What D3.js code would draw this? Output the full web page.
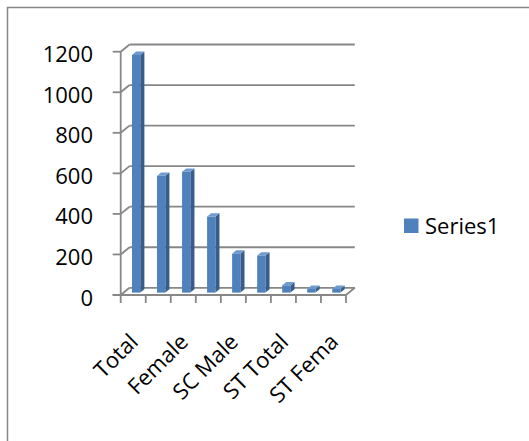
<!DOCTYPE html>
<html>
<head>
<meta charset="utf-8">
<script src="https://cdn.jsdelivr.net/npm/d3@7"></script>
<style>
  html, body { margin: 0; padding: 0; background: #fff; }
  svg { display: block; }
  text { font-family: "Open Sans", Lato, sans-serif; fill: #000; }
</style>
</head>
<body>
<svg id="chart" width="529" height="441"></svg>
<script>
const categories = ["Total", "Male", "Female", "SC Total", "SC Male", "SC Female", "ST Total", "ST Male", "ST Female"];
const values = [1172, 576, 596, 375, 192, 183, 36, 18, 18];
const yTicks = [0, 200, 400, 600, 800, 1000, 1200];
const seriesName = "Series1";

(function () {
const svg = d3.select("#chart");
const W = 529, H = 441;

svg.append("rect").attr("x", 7.5).attr("y", 7.5).attr("width", W).attr("height", H)
  .attr("fill", "#fff").attr("stroke", "#868686").attr("stroke-width", 1.5);

const x = d3.scaleBand().domain(categories).range([120.7, 346]).paddingInner(0).paddingOuter(0);
const y = d3.scaleLinear().domain([0, 1200]).range([295, 51.7]);

const DX = 8.8, DY = -7.2;
const off = t => [DX * t, DY * t];

const gridColor = "#878787";
const g = svg.append("g");

yTicks.forEach(v => {
  const yf = y(v);
  const x0 = x.range()[0];
  g.append("line").attr("x1", x0 - 8).attr("x2", x0).attr("y1", yf).attr("y2", yf)
    .attr("stroke", gridColor).attr("stroke-width", 1.8);
  g.append("line").attr("x1", x0).attr("y1", yf).attr("x2", x0 + DX).attr("y2", yf + DY)
    .attr("stroke", gridColor).attr("stroke-width", 1.8);
  g.append("line").attr("x1", x0 + DX).attr("y1", yf + DY).attr("x2", x.range()[1] + DX).attr("y2", yf + DY)
    .attr("stroke", gridColor).attr("stroke-width", 1.8);
});

g.append("line").attr("x1", x.range()[0]).attr("x2", x.range()[0]).attr("y1", y(1200)).attr("y2", y(0))
  .attr("stroke", gridColor).attr("stroke-width", 1.8);

g.append("line").attr("x1", x.range()[0] - 8).attr("x2", x.range()[1]).attr("y1", y(0)).attr("y2", y(0))
  .attr("stroke", gridColor).attr("stroke-width", 1.8);
g.append("line").attr("x1", x.range()[1]).attr("y1", y(0)).attr("x2", x.range()[1] + DX).attr("y2", y(0) + DY)
  .attr("stroke", gridColor).attr("stroke-width", 1.8);

const tickPos = categories.map(c => x(c)).concat([x.range()[1]]);
tickPos.forEach(px => {
  g.append("line").attr("x1", px).attr("x2", px).attr("y1", y(0)).attr("y2", y(0) + 8)
    .attr("stroke", gridColor).attr("stroke-width", 1.8);
});

g.selectAll("text.ytick").data(yTicks).enter().append("text")
  .attr("class", "ytick")
  .attr("x", 93).attr("y", d => y(d) + 10.5)
  .attr("text-anchor", "end")
  .attr("font-size", 22)
  .text(d => d);

const tFront = 0.33, tBack = 0.8;
const barFrac = 0.33;
const bw = x.bandwidth() * barFrac;
const cFront = "#4F81BD", cSide = "#385D8A", cTop = "#6F9AD0";
const bars = g.append("g");
categories.forEach((c, i) => {
  const v = values[i];
  const xl = x(c) + (x.bandwidth() - bw) / 2;
  const xr = xl + bw;
  const [fx, fy] = off(tFront);
  const [bx, by] = off(tBack);
  const y0 = y(0), y1 = y(v);
  bars.append("path").attr("d", `M${xr + fx},${y1 + fy} L${xr + bx},${y1 + by} L${xr + bx},${y0 + by} L${xr + fx},${y0 + fy} Z`)
    .attr("fill", cSide);
  bars.append("path").attr("d", `M${xl + fx},${y1 + fy} L${xr + fx},${y1 + fy} L${xr + bx},${y1 + by} L${xl + bx},${y1 + by} Z`)
    .attr("fill", cTop);
  bars.append("rect").attr("x", xl + fx).attr("y", y1 + fy).attr("width", bw).attr("height", y0 - y1)
    .attr("fill", cFront);
});

const labG = g.append("g");
const maxLen = 90;
categories.forEach((c, i) => {
  if (i % 2 !== 0) return;
  const cx = x(c) + x.bandwidth() / 2 - 5;
  const cy = 332;
  const t = labG.append("text")
    .attr("transform", `translate(${cx},${cy}) rotate(-45)`)
    .attr("text-anchor", "end")
    .attr("dy", "0.72em")
    .attr("font-size", 22)
    .text(c);
  let s = c;
  while (t.node().getComputedTextLength() > maxLen && s.length > 1) {
    s = s.slice(0, -1);
    t.text(s);
  }
});

const lg = svg.append("g");
lg.append("rect").attr("x", 404).attr("y", 218.5).attr("width", 14.5).attr("height", 14.5).attr("fill", cFront);
lg.append("text").attr("x", 425).attr("y", 233.5).attr("font-size", 22).text(seriesName);
})();
</script>
</body>
</html>
